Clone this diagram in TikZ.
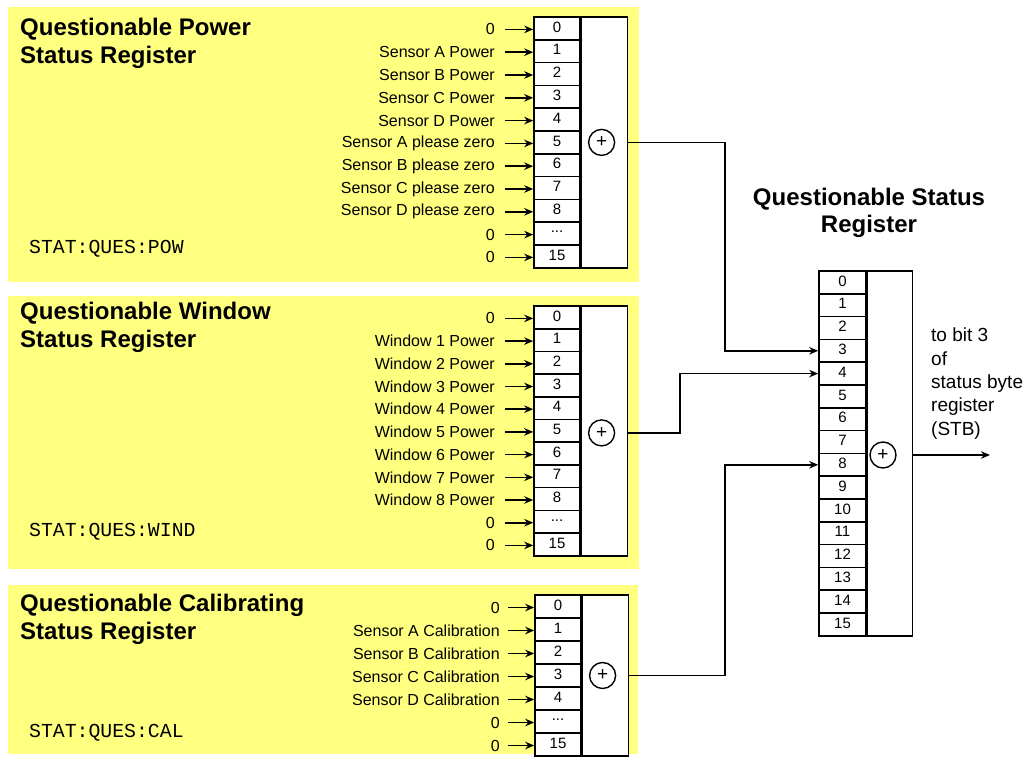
\documentclass[tikz,border=0pt]{standalone}
\usepackage{fontspec}
\setmainfont{Liberation Sans}
\setmonofont{Liberation Mono}
\usetikzlibrary{arrows.meta,positioning,calc}

\definecolor{panelyellow}{RGB}{255,255,128}
\newcommand\regtitle{\fontsize{24}{27.5}\selectfont\bfseries}
\newcommand\inlabel{\fontsize{16}{18}\selectfont}
\newcommand\bitfont{\fontsize{15}{16}\selectfont}
\newcommand\cmdfont{\fontsize{19.8}{22}\selectfont\ttfamily}
\newcommand\bitno[1]{\raisebox{3pt}{#1}}
\newcommand\skipbits{...}

\tikzset{
  panel/.style={fill=panelyellow, draw=none},
  bitcell/.style={draw, line width=1.6pt, fill=white, minimum width=46pt,
    minimum height=22.8pt, inner sep=0pt, font=\bitfont},
  sumbox/.style={draw, line width=1.6pt, fill=white, minimum width=46pt, inner sep=0pt},
  orgate/.style={circle, draw, line width=1.4pt, minimum size=26pt, inner sep=0pt,
    font=\fontsize{19}{20}\selectfont},
  inlab/.style={anchor=east, inner sep=0pt, font=\inlabel},
  inarrow/.style={-{Stealth[length=9pt,width=7.5pt]}, line width=1.6pt, shorten <=3pt},
  link/.style={-{Stealth[length=9pt,width=7.5pt]}, line width=1.6pt},
}

\begin{document}
\begin{tikzpicture}[x=1pt, y=-1pt]
  \useasboundingbox (0,0) rectangle (1036,760);

  % power register
  \fill[panel] (8,7) rectangle (639,282);
  \node[anchor=north west, align=left, inner sep=0pt, font=\regtitle] (powtitle) at (20,18)
    {Questionable Power\\Status Register};
  \node[anchor=west, inner sep=0pt, font=\cmdfont] (powcmd) at (29,249) {STAT:QUES:POW};
  \foreach \i/\b/\t in {0/0/0, 1/1/Sensor A Power, 2/2/Sensor B Power, 3/3/Sensor C Power,
      4/4/Sensor D Power, 5/5/Sensor A please zero, 6/6/Sensor B please zero,
      7/7/Sensor C please zero, 8/8/Sensor D please zero, 9/\skipbits/0, 10/15/0}
  {
    \node[bitcell] (pow\i) at (557,{28.4+22.8*\i}) {\bitno{\b}};
    \node[inlab] (powin\i) at (495,{29.4+22.8*\i}) {\t};
    \draw[inarrow] (powin\i.east) ++(7,0) -- (pow\i.west |- powin\i.east);
  }
  \node[sumbox, minimum height=250.8pt, anchor=north west] (powsum) at (pow0.north east) {};
  \node[orgate, xshift=-3pt] (powor) at (powsum |- pow5) {+};

  % window register
  \fill[panel] (8,296) rectangle (639,569);
  \node[anchor=north west, align=left, inner sep=0pt, font=\regtitle] (wintitle) at (20,302)
    {Questionable Window\\Status Register};
  \node[anchor=west, inner sep=0pt, font=\cmdfont] (wincmd) at (29,532) {STAT:QUES:WIND};
  \foreach \i/\b/\t in {0/0/0, 1/1/Window 1 Power, 2/2/Window 2 Power, 3/3/Window 3 Power,
      4/4/Window 4 Power, 5/5/Window 5 Power, 6/6/Window 6 Power,
      7/7/Window 7 Power, 8/8/Window 8 Power, 9/\skipbits/0, 10/15/0}
  {
    \node[bitcell] (win\i) at (557,{317.4+22.7*\i}) {\bitno{\b}};
    \node[inlab] (winin\i) at (495,{318.4+22.7*\i}) {\t};
    \draw[inarrow] (winin\i.east) ++(7,0) -- (win\i.west |- winin\i.east);
  }
  \node[sumbox, minimum height=249.7pt, anchor=north west] (winsum) at (win0.north east) {};
  \node[orgate, xshift=-3pt, yshift=-2pt] (winor) at (winsum |- win5) {+};

  % calibrating register
  \fill[panel] (8,585) rectangle (638,754);
  \node[anchor=north west, align=left, inner sep=0pt, font=\regtitle] (caltitle) at (20,594)
    {Questionable Calibrating\\Status Register};
  \node[anchor=west, inner sep=0pt, font=\cmdfont] (calcmd) at (29,733) {STAT:QUES:CAL};
  \foreach \i/\b/\t in {0/0/0, 1/1/Sensor A Calibration, 2/2/Sensor B Calibration,
      3/3/Sensor C Calibration, 4/4/Sensor D Calibration, 5/\skipbits/0, 6/15/0}
  {
    \node[bitcell, minimum height=23pt] (cal\i) at (558,{606.5+23*\i}) {\bitno{\b}};
    \node[inlab] (calin\i) at (500,{607.5+23*\i}) {\t};
    \draw[inarrow] (calin\i.east) ++(5,0) -- (cal\i.west |- calin\i.east);
  }
  \node[sumbox, minimum height=161pt, anchor=north west] (calsum) at (cal0.north east) {};
  \node[orgate, xshift=-3pt] (calor) at (calsum |- cal3) {+};

  % questionable status register
  \node[font=\regtitle, align=center] (qtitle) at (869,213) {Questionable Status\\Register};
  \foreach \i in {0,...,15}
    \node[bitcell, minimum width=47pt] (q\i) at (842.5,{282.4+22.8*\i}) {\bitno{\i}};
  \node[sumbox, minimum width=45pt, minimum height=364.8pt, anchor=north west] (qsum) at (q0.north east) {};
  \node[orgate] (qor) at (883,455) {+};
  \coordinate (stb) at (990,455);
  \draw[link] (qsum.east |- qor) -- (stb);
  \node[anchor=north west, inner sep=0pt, align=left, font=\fontsize{19}{23.3}\selectfont] (stbtext)
    at (931,328) {to bit 3\\of\\status byte\\register\\(STB)};

  % links to the summary register
  \coordinate (powbend) at (725,0);
  \coordinate (winbend) at (680,0);
  \coordinate (calbend) at (725,0);
  \draw[link] (powsum.east |- powor) -| (powbend |- q3) -- (q3.west);
  \draw[link] (winsum.east |- winor) -| (winbend |- q4) -- (q4.west);
  \draw[link] (calsum.east |- calor) -| (calbend |- q8) -- (q8.west);
\end{tikzpicture}
\end{document}
